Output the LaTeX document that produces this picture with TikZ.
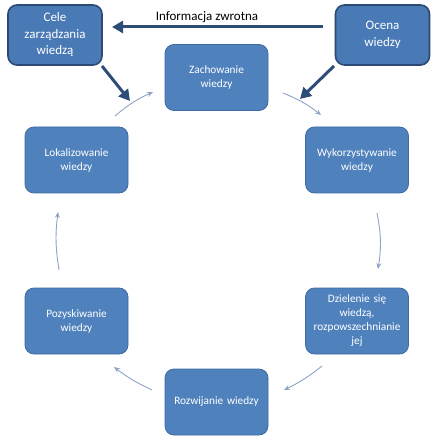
\documentclass[tikz,border=0pt]{standalone}
\usepackage{fontspec}
\setmainfont{Carlito}
\usetikzlibrary{arrows.meta}
\definecolor{boxfill}{HTML}{4F81BD}
\definecolor{boxline}{HTML}{3F6CA3}
\definecolor{topfill}{HTML}{4A7AB6}
\definecolor{topline}{HTML}{2B4A74}
\definecolor{thick}{HTML}{2E4C78}
\definecolor{thin}{HTML}{8EA3C6}
\tikzset{
  x=1pt,y=-1pt,
  cyclebox/.style={draw=boxline, line width=0.8pt, fill=boxfill, rounded corners=9pt,
    minimum width=103pt, minimum height=66pt, text=white, align=center,
    font=\fontsize{11.3}{14}\selectfont, text width=100pt, inner sep=0pt},
  topbox/.style={draw=topline, line width=1.6pt, fill=topfill, rounded corners=9pt,
    minimum width=94pt, minimum height=60pt, text=white, align=center,
    font=\fontsize{13}{16.5}\selectfont, inner sep=0pt},
  thinarrow/.style={draw=thin, line width=0.9pt, -{Stealth[length=6pt,width=5pt]}},
  thickarrow/.style={draw=thick, line width=3pt, -{Triangle[length=11pt,width=12pt]}},
}
\begin{document}
\begin{tikzpicture}
\useasboundingbox (0,0) rectangle (438,443);
% boxes
\node[cyclebox] (zach) at (216.5,77.5) {Zachowanie\\wiedzy};
\node[cyclebox] (wyk) at (357,160) {Wykorzystywanie\\wiedzy};
\node[cyclebox] (dziel) at (357,321) {Dzielenie się\\wiedzą,\\rozpowszechnianie\\jej};
\node[cyclebox] (rozw) at (216.5,402) {Rozwijanie wiedzy};
\node[cyclebox] (pozy) at (76.5,321) {Pozyskiwanie\\wiedzy};
\node[cyclebox] (lok) at (76.5,160) {Lokalizowanie\\wiedzy};
\node[topbox] (cele) at (55,35) {Cele\\zarządzania\\wiedzą};
\node[topbox] (ocena) at (382.5,35) {Ocena\\wiedzy};
% feedback arrow
\coordinate (fbS) at (323,27);
\coordinate (fbE) at (112,27);
\draw[thickarrow] (fbS) -- (fbE);
\node[text=black, font=\fontsize{13}{15}\selectfont] (fbl) at (207,17) {Informacja zwrotna};
% thick diagonal arrows
\coordinate (c1) at (102,66);
\coordinate (c2) at (130,101);
\draw[thickarrow] (c1) -- (c2);
\coordinate (o1) at (334,66);
\coordinate (o2) at (300,99);
\draw[thickarrow] (o1) -- (o2);
% thin cycle arrows
\coordinate (a1s) at (115,116); \coordinate (a1e) at (153,92);
\draw[thinarrow] (a1s) to[bend left=8] (a1e);
\coordinate (a2s) at (283,93); \coordinate (a2e) at (321,115);
\draw[thinarrow] (a2s) to[bend left=8] (a2e);
\coordinate (a3s) at (377,213); \coordinate (a3e) at (378,269);
\draw[thinarrow] (a3s) to[bend left=10] (a3e);
\coordinate (a4s) at (322,366); \coordinate (a4e) at (284,390);
\draw[thinarrow] (a4s) to[bend left=6] (a4e);
\coordinate (a5s) at (152,390); \coordinate (a5e) at (114,367);
\draw[thinarrow] (a5s) to[bend left=6] (a5e);
\coordinate (a6s) at (59,270); \coordinate (a6e) at (58,212);
\draw[thinarrow] (a6s) to[bend left=8] (a6e);
\end{tikzpicture}
\end{document}
